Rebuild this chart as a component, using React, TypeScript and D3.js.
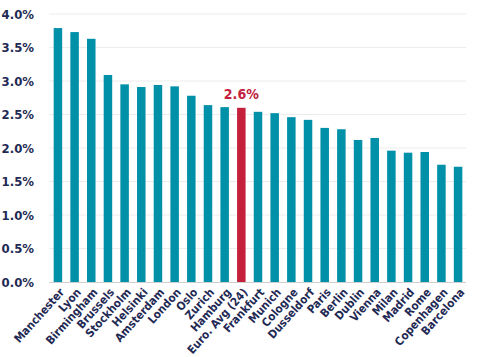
import React from "react";
import * as d3 from "d3";

const cities = [
  "Manchester", "Lyon", "Birmingham", "Brussels", "Stockholm", "Helsinki",
  "Amsterdam", "London", "Oslo", "Zurich", "Hamburg", "Euro. Avg (24)",
  "Frankfurt", "Munich", "Cologne", "Dusseldorf", "Paris", "Berlin",
  "Dublin", "Vienna", "Milan", "Madrid", "Rome", "Copenhagen", "Barcelona",
];
const values = [
  3.79, 3.73, 3.63, 3.09, 2.95, 2.91,
  2.94, 2.92, 2.78, 2.64, 2.61, 2.6,
  2.54, 2.52, 2.46, 2.42, 2.3, 2.28,
  2.12, 2.15, 1.96, 1.93, 1.94, 1.75, 1.72,
];
const yTicks = [0, 0.5, 1, 1.5, 2, 2.5, 3, 3.5, 4];
const highlight = "Euro. Avg (24)";
const highlightLabel = "2.6%";

const W = 492;
const H = 357;
const FONT = "'DejaVu Sans Condensed', 'Liberation Sans Narrow', 'DejaVu Sans', sans-serif";
const NAVY = "#1f2a55";
const TEAL = "#0090a8";
const RED = "#c4203b";

export default function App() {
  const x = d3.scaleBand<string>().domain(cities).range([49.5, 466.5]).paddingInner(0.49).paddingOuter(0.25);
  const y = d3.scaleLinear().domain([0, 4]).range([282, 14]);

  return (
    <svg width={W} height={H} style={{ position: "absolute", left: 0, top: 0 }}>
      <rect width={W} height={H} fill="#fff" />
      {yTicks.map((t) => (
        <g key={t}>
          {t > 0 && (
            <line x1={49} x2={466} y1={y(t)} y2={y(t)} stroke="#ececec" strokeWidth={1} />
          )}
          <text
            x={34}
            y={y(t)}
            dy="0.36em"
            textAnchor="end"
            fontFamily={FONT}
            fontWeight="bold"
            fontSize={13}
            fill={NAVY}
          >
            {d3.format(".1f")(t) + "%"}
          </text>
        </g>
      ))}
      {cities.map((c, i) => (
        <rect
          key={c}
          x={x(c)}
          y={y(values[i])}
          width={x.bandwidth()}
          height={y(0) - y(values[i])}
          fill={c === highlight ? RED : TEAL}
        />
      ))}
      <line x1={49} x2={466} y1={282.5} y2={282.5} stroke="#cfcfcf" strokeWidth={1} />
      <text
        x={(x(highlight) as number) + x.bandwidth() / 2}
        y={y(values[cities.indexOf(highlight)]) - 9}
        textAnchor="middle"
        fontFamily={FONT}
        fontWeight="bold"
        fontSize={14}
        fill={RED}
      >
        {highlightLabel}
      </text>
      {cities.map((c) => {
        const cx = (x(c) as number) + x.bandwidth() / 2 + 4;
        const cy = 290;
        return (
          <text
            key={"l" + c}
            transform={`translate(${cx},${cy}) rotate(-48)`}
            textAnchor="end"
            dy="0.35em"
            fontFamily={FONT}
            fontWeight="bold"
            fontSize={11.5}
            fill={NAVY}
          >
            {c}
          </text>
        );
      })}
    </svg>
  );
}
